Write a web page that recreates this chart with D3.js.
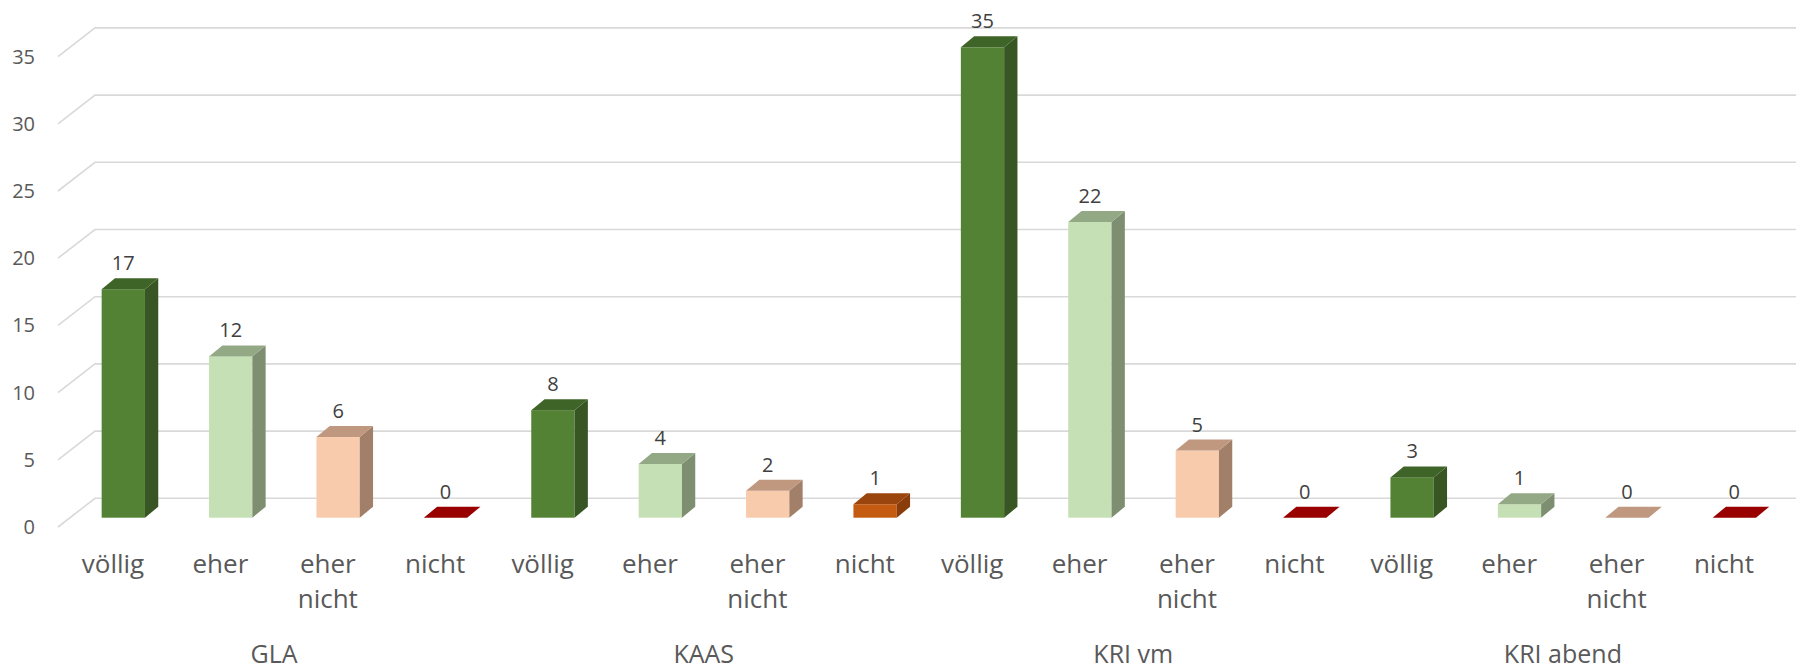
<!DOCTYPE html>
<html>
<head>
<meta charset="utf-8">
<script src="https://cdn.jsdelivr.net/npm/d3@7"></script>
<style>
  html, body { margin: 0; padding: 0; background: #ffffff; }
  svg { display: block; }
  text { font-family: "Open Sans", "Noto Sans", sans-serif; }
</style>
</head>
<body>
<svg id="chart" width="1796" height="670"></svg>
<script>
// ---- data ----
const groups = ["GLA", "KAAS", "KRI vm", "KRI abend"];
const categories = ["völlig", "eher", "eher nicht", "nicht"];
const valuesGLA = [17, 12, 6, 0];
const valuesKAAS = [8, 4, 2, 1];
const valuesKRIvm = [35, 22, 5, 0];
const valuesKRIabend = [3, 1, 0, 0];
const yTicks = [0, 5, 10, 15, 20, 25, 30, 35];

// colour sets per point style: [front, side, top]
const colVoellig = ["#548235", "#375623", "#3f6428"];
const colEher = ["#c5e0b4", "#7e8e71", "#93a985"];
const colEherNicht = ["#f8cbad", "#a27f69", "#c09880"];
const colNichtOrange = ["#c55a11", "#8a3c0b", "#9b450e"];
const colNichtRed = ["#c00000", "#7a0000", "#990000"];

const allValues = [valuesGLA, valuesKAAS, valuesKRIvm, valuesKRIabend];
const rows = [];
allValues.forEach((vals, g) => {
  vals.forEach((v, c) => {
    let col = [colVoellig, colEher, colEherNicht, v > 0 ? colNichtOrange : colNichtRed][c];
    rows.push({ key: g + "-" + c, group: groups[g], cat: categories[c], value: v, col: col });
  });
});

// ---- geometry ----
const svg = d3.select("#chart");
const W = 1796;
const x = d3.scaleBand().domain(rows.map(d => d.key)).range([59.3, 1777.7]).padding(0);
const step = x.step();
const cx = k => x(k) + step / 2;

const yBar = d3.scaleLinear().domain([0, 35]).range([517.7, 517.7 - 35 * 13.44]);
const yBack = d3.scaleLinear().domain([0, 35]).range([498.3, 498.3 - 35 * 13.44]);
const yFront = d3.scaleLinear().domain([0, 35]).range([527, 527 - 35 * 13.44]);

const floorX0 = 58, floorX1 = 95;
const barW = 43.3, depX = 13.3, depY = 11, barOff = 10.3;

// gridlines
const grid = svg.append("g");
yTicks.forEach(t => {
  grid.append("path")
    .attr("d", `M${floorX0},${yFront(t)}L${floorX1},${yBack(t)}L${W + 5},${yBack(t)}`)
    .attr("fill", "none").attr("stroke", "#d9d9d9").attr("stroke-width", 1.6);
});

// y tick labels
svg.append("g").selectAll("text").data(yTicks).join("text")
  .attr("x", 35).attr("y", d => yFront(d)).attr("dy", "0.35em")
  .attr("text-anchor", "end").attr("font-size", 20).attr("fill", "#595959")
  .text(d => d);

// bars
const bars = svg.append("g").selectAll("g").data(rows).join("g");
bars.each(function(d) {
  const g = d3.select(this);
  const x0 = cx(d.key) + barOff - barW / 2, x1 = x0 + barW;
  const yb = yBar(0), yt = yBar(d.value);
  if (d.value > 0) {
    g.append("rect").attr("x", x0).attr("y", yt).attr("width", barW).attr("height", yb - yt).attr("fill", d.col[0]);
    g.append("path").attr("d", `M${x1},${yt}L${x1 + depX},${yt - depY}L${x1 + depX},${yb - depY}L${x1},${yb}Z`).attr("fill", d.col[1]);
  }
  g.append("path").attr("d", `M${x0},${yt}L${x1},${yt}L${x1 + depX},${yt - depY}L${x0 + depX},${yt - depY}Z`).attr("fill", d.col[2]);
  g.append("text").attr("x", cx(d.key) + barOff).attr("y", yt - depY - 8)
    .attr("text-anchor", "middle").attr("font-size", 20).attr("fill", "#404040").text(d.value);
});

// category labels (wrapped)
const catG = svg.append("g").selectAll("text").data(rows).join("text")
  .attr("text-anchor", "middle").attr("font-size", 26).attr("fill", "#595959");
catG.each(function(d) {
  const words = d.cat.split(" ");
  const t = d3.select(this);
  words.forEach((w, i) => {
    t.append("tspan").attr("x", cx(d.key)).attr("y", 573 + i * 35).text(w);
  });
});

// group labels
svg.append("g").selectAll("text").data(groups).join("text")
  .attr("x", g => d3.mean(rows.filter(r => r.group === g), r => cx(r.key)))
  .attr("y", 663).attr("text-anchor", "middle").attr("font-size", 25).attr("fill", "#595959")
  .text(g => g);
</script>
</body>
</html>
